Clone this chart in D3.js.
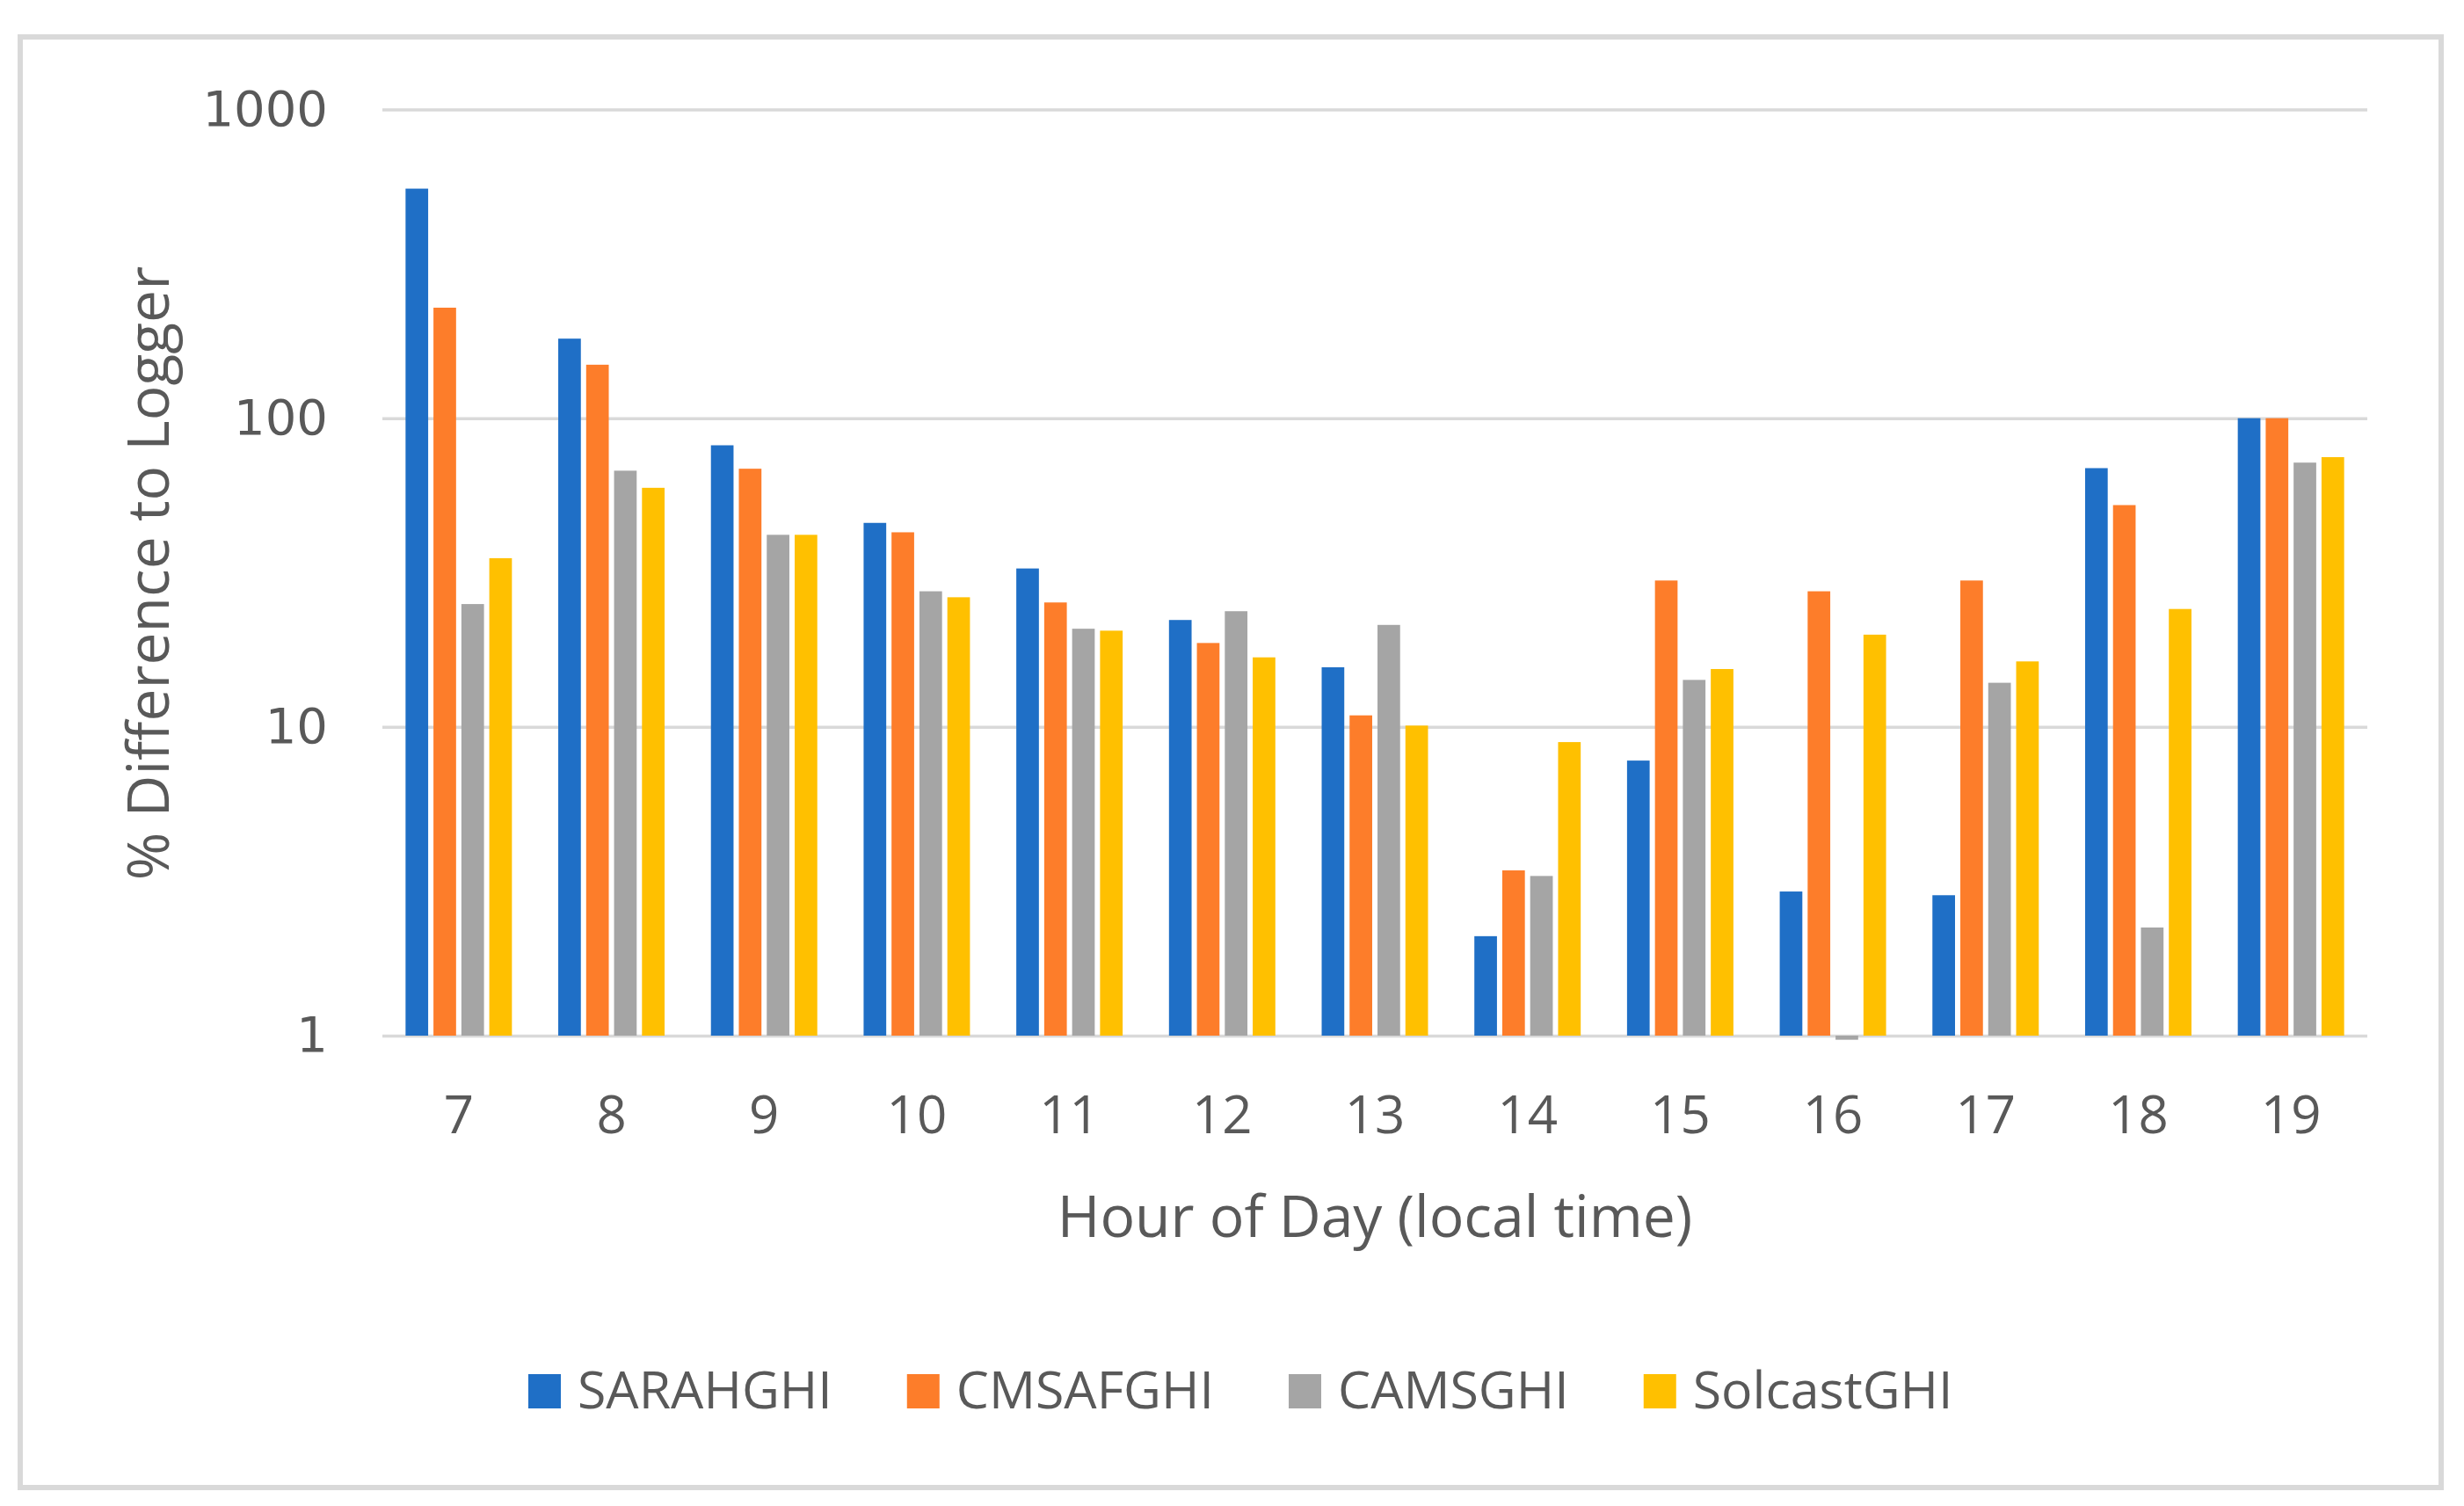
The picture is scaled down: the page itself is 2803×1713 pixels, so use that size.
<!DOCTYPE html>
<meta charset="utf-8">
<script src="https://d3js.org/d3.v7.min.js"></script>
<style>
  body { margin: 0; background: #fff; }
</style>
<div id="chart"></div>
<script>

  // data
  var hours = ["7", "8", "9", "10", "11", "12", "13", "14", "15", "16", "17", "18", "19"];
  var seriesNames = ["SARAHGHI", "CMSAFGHI", "CAMSGHI", "SolcastGHI"];
  var sarahGHI   = [554, 181, 81.7, 45.8, 32.6, 22.2, 15.6, 2.10, 7.78, 2.93, 2.85, 68.9, 100];
  var cmsafGHI   = [228, 149, 68.6, 42.7, 25.3, 18.7, 10.9, 3.43, 29.8, 27.5, 29.8, 52.3, 100];
  var camsGHI    = [25.0, 67.6, 41.9, 27.5, 20.8, 23.7, 21.4, 3.29, 14.2, 0.97, 13.9, 2.24, 71.8];
  var solcastGHI = [35.2, 59.5, 41.9, 26.3, 20.5, 16.8, 10.1, 8.93, 15.4, 19.9, 16.3, 24.1, 74.8];
  var yTicks = [1, 10, 100, 1000];

  var seriesValues = [sarahGHI, cmsafGHI, camsGHI, solcastGHI];
  var colors = ["#1f6fc6", "#fd7d2a", "#a5a5a5", "#ffc000"];

  var W = 2803, H = 1713;
  // plot area (note: "top" is reserved on window, so use plot* names)
  var plotLeft = 435, plotRight = 2693, plotTop = 124.5, plotBottom = 1178;
  var textColor = "#595959";
  var font = "'Open Sans', sans-serif";

  var svg = d3.select("#chart")
    .append("svg")
      .attr("width", W)
      .attr("height", H);

  svg.append("rect")
    .attr("width", W).attr("height", H)
    .attr("fill", "#fff");

  // outer chart border
  svg.append("rect")
    .attr("x", 23).attr("y", 42)
    .attr("width", 2754).attr("height", 1650)
    .attr("fill", "none")
    .attr("stroke", "#d9d9d9")
    .attr("stroke-width", 6);

  var x0 = d3.scaleBand()
    .domain(hours)
    .range([plotLeft, plotRight]);

  var x1 = d3.scaleBand()
    .domain(seriesNames)
    .range([0, x0.bandwidth()])
    .paddingInner(0.19)
    .paddingOuter(0.83);

  var y = d3.scaleLog()
    .domain([1, 1000])
    .range([plotBottom, plotTop]);

  // y axis with gridlines
  var yAxis = svg.append("g")
    .attr("transform", "translate(" + plotLeft + ",0)")
    .call(d3.axisLeft(y)
      .tickValues(yTicks)
      .tickFormat(d3.format("d"))
      .tickSize(-(plotRight - plotLeft))
      .tickPadding(62));
  yAxis.select(".domain").remove();
  yAxis.selectAll(".tick line")
    .attr("stroke", "#d9d9d9")
    .attr("stroke-width", 3.5);
  yAxis.selectAll(".tick text")
    .attr("fill", textColor)
    .style("font-family", "'DejaVu Sans', sans-serif")
    .style("font-size", "56px");

  // x axis labels
  var xAxis = svg.append("g")
    .attr("transform", "translate(0," + plotBottom + ")")
    .call(d3.axisBottom(x0).tickSize(0).tickPadding(68));
  xAxis.select(".domain").remove();
  xAxis.selectAll(".tick text")
    .attr("fill", textColor)
    .style("font-family", font)
    .style("font-size", "60px");

  // bars
  var groups = svg.append("g")
    .selectAll("g")
    .data(hours)
    .enter()
    .append("g")
      .attr("transform", function(d) { return "translate(" + x0(d) + ",0)"; });

  groups.selectAll("rect")
    .data(function(d, i) {
      return seriesNames.map(function(s, j) { return {name: s, value: seriesValues[j][i], idx: j}; });
    })
    .enter()
    .append("rect")
      .attr("x", function(d) { return x1(d.name); })
      .attr("y", function(d) { return Math.min(y(d.value), y(1)); })
      .attr("width", x1.bandwidth())
      .attr("height", function(d) { return Math.abs(y(1) - y(d.value)); })
      .attr("fill", function(d) { return colors[d.idx]; });

  // axis titles
  svg.append("text")
    .attr("x", (plotLeft + plotRight) / 2)
    .attr("y", 1407)
    .attr("text-anchor", "middle")
    .attr("fill", textColor)
    .style("font-family", font)
    .style("font-size", "66px")
    .text("Hour of Day (local time)");

  svg.append("text")
    .attr("transform", "translate(192,652) rotate(-90)")
    .attr("text-anchor", "middle")
    .attr("fill", textColor)
    .style("font-family", font)
    .style("font-size", "66px")
    .text("% Difference to Logger");

  // legend
  var lx = 601;
  seriesNames.forEach(function(name, i) {
    svg.append("rect")
      .attr("x", lx).attr("y", 1563)
      .attr("width", 37).attr("height", 39)
      .attr("fill", colors[i]);
    var t = svg.append("text")
      .attr("x", lx + 56)
      .attr("y", 1602)
      .attr("fill", textColor)
      .style("font-family", font)
      .style("font-size", "59px")
      .text(name);
    lx += 56 + t.node().getComputedTextLength() + 85;
  });

</script>
